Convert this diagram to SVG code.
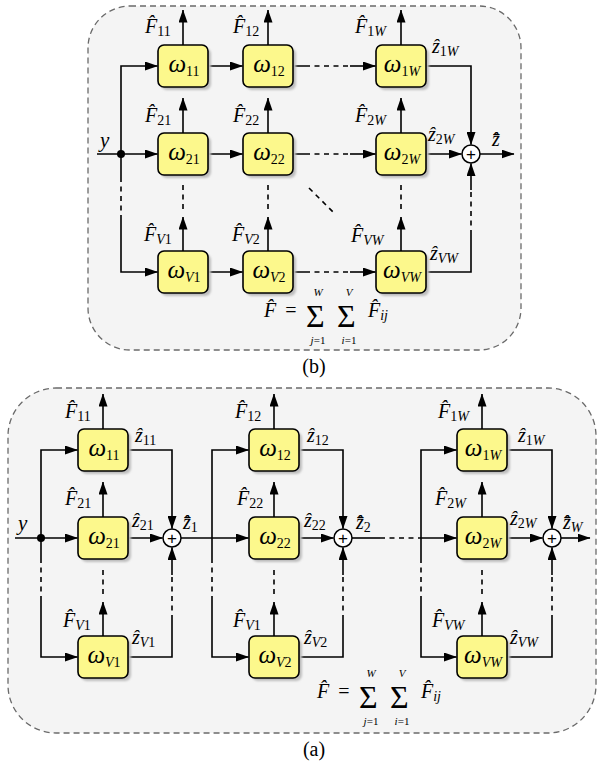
<svg xmlns="http://www.w3.org/2000/svg" width="597" height="763" viewBox="0 0 597 763">
  <defs>
    <style>
      .frame { fill: #f4f4f4; stroke: #6a6a6a; stroke-width: 1.3; stroke-dasharray: 6 4; }
      .ln { fill: none; stroke: #000; stroke-width: 1.6; }
      .ds { stroke-dasharray: 5 4.5; }
      .box { fill: #fcf88c; stroke: #000; stroke-width: 1.6; }
      .sh { fill: #bdbdbd; filter: url(#soft); }
      .sum { fill: #fff; stroke: #000; stroke-width: 1.5; }
      .plus { font-family: "Liberation Sans", Arial, sans-serif; font-size: 17px; text-anchor: middle; }
      text { font-family: "Liberation Serif", "Times New Roman", serif; }
      .t { font-style: italic; fill: #000; }
      .F { font-size: 20px; }
      .w { font-size: 25px; text-anchor: middle; }
      .z { font-size: 20px; }
      .s { font-size: 14px; }
      .r { font-style: normal; }
      .lim { font-size: 11px; text-anchor: middle; }
      .sig { font-size: 32px; }
      .cap { font-size: 20px; text-anchor: middle; }
    </style>
    <filter id="soft" x="-10%" y="-10%" width="130%" height="130%">
      <feGaussianBlur stdDeviation="0.8"/>
    </filter>
    <marker id="ah" markerWidth="13" markerHeight="9" refX="12.5" refY="4.5" orient="auto" markerUnits="userSpaceOnUse">
      <path d="M0,0 L13,4.5 L0,9 z" fill="#000"/>
    </marker>
  </defs>

  <!-- ===================== (b) parallel grid ===================== -->
  <rect class="frame" x="88" y="6" width="433" height="344" rx="42"/>

  <g id="b-connectors">
    <path class="ln" d="M97,154 H157.5" marker-end="url(#ah)"/>
    <path class="ln" d="M121,154 V66 H157.5" marker-end="url(#ah)"/>
    <path class="ln" d="M121,154 V177"/>
    <path class="ln ds" d="M121,177 V215"/>
    <path class="ln" d="M121,215 V272 H157.5" marker-end="url(#ah)"/>
    <path class="ln" d="M208,66 H242.5" marker-end="url(#ah)"/>
    <path class="ln" d="M208,154 H242.5" marker-end="url(#ah)"/>
    <path class="ln" d="M208,272 H242.5" marker-end="url(#ah)"/>
    <path class="ln" d="M293,66 H305 M293,154 H305 M293,272 H305"/>
    <path class="ln ds" d="M305,66 H350 M305,154 H350 M305,272 H350"/>
    <path class="ln" d="M350,66 H375.5" marker-end="url(#ah)"/>
    <path class="ln" d="M350,154 H375.5" marker-end="url(#ah)"/>
    <path class="ln" d="M350,272 H375.5" marker-end="url(#ah)"/>
    <path class="ln" d="M183,45 V10" marker-end="url(#ah)"/>
    <path class="ln" d="M268,45 V10" marker-end="url(#ah)"/>
    <path class="ln" d="M401,45 V10" marker-end="url(#ah)"/>
    <path class="ln" d="M183,133 V98" marker-end="url(#ah)"/>
    <path class="ln" d="M268,133 V98" marker-end="url(#ah)"/>
    <path class="ln" d="M401,133 V98" marker-end="url(#ah)"/>
    <path class="ln" d="M183,251 V217" marker-end="url(#ah)"/>
    <path class="ln" d="M268,251 V217" marker-end="url(#ah)"/>
    <path class="ln" d="M401,251 V217" marker-end="url(#ah)"/>
    <path class="ln ds" d="M183,185 V213 M268,185 V213 M401,185 V213"/>
    <path class="ln ds" d="M309,188 L334,213"/>
    <path class="ln" d="M427,66 H471 V144.5" marker-end="url(#ah)"/>
    <path class="ln" d="M427,154 H461.5" marker-end="url(#ah)"/>
    <path class="ln" d="M426,272 H471 V235"/>
    <path class="ln ds" d="M471,235 V190"/>
    <path class="ln" d="M471,190 V163.5" marker-end="url(#ah)"/>
    <path class="ln" d="M480,154 H514" marker-end="url(#ah)"/>
    <circle cx="121" cy="154" r="4" fill="#000"/>
  </g>

  <g id="b-w11"><rect class="sh" x="161" y="48" width="50" height="42" rx="6"/><rect class="box" x="158" y="45" width="50" height="42" rx="6"/><text class="t w" x="184" y="72">ω<tspan class="s r" dy="4">11</tspan></text></g>
  <g id="b-w12"><rect class="sh" x="246" y="48" width="50" height="42" rx="6"/><rect class="box" x="243" y="45" width="50" height="42" rx="6"/><text class="t w" x="269" y="72">ω<tspan class="s r" dy="4">12</tspan></text></g>
  <g id="b-w1W"><rect class="sh" x="379" y="48" width="50" height="42" rx="6"/><rect class="box" x="376" y="45" width="50" height="42" rx="6"/><text class="t w" x="402" y="72">ω<tspan class="s" dy="4"><tspan class="r">1</tspan>W</tspan></text></g>
  <g id="b-w21"><rect class="sh" x="161" y="136" width="50" height="42" rx="6"/><rect class="box" x="158" y="133" width="50" height="42" rx="6"/><text class="t w" x="184" y="160">ω<tspan class="s r" dy="4">21</tspan></text></g>
  <g id="b-w22"><rect class="sh" x="246" y="136" width="50" height="42" rx="6"/><rect class="box" x="243" y="133" width="50" height="42" rx="6"/><text class="t w" x="269" y="160">ω<tspan class="s r" dy="4">22</tspan></text></g>
  <g id="b-w2W"><rect class="sh" x="379" y="136" width="50" height="42" rx="6"/><rect class="box" x="376" y="133" width="50" height="42" rx="6"/><text class="t w" x="402" y="160">ω<tspan class="s" dy="4"><tspan class="r">2</tspan>W</tspan></text></g>
  <g id="b-wV1"><rect class="sh" x="161" y="254" width="50" height="42" rx="6"/><rect class="box" x="158" y="251" width="50" height="42" rx="6"/><text class="t w" x="184" y="278">ω<tspan class="s" dy="4">V<tspan class="r">1</tspan></tspan></text></g>
  <g id="b-wV2"><rect class="sh" x="246" y="254" width="50" height="42" rx="6"/><rect class="box" x="243" y="251" width="50" height="42" rx="6"/><text class="t w" x="269" y="278">ω<tspan class="s" dy="4">V<tspan class="r">2</tspan></tspan></text></g>
  <g id="b-wVW"><rect class="sh" x="379" y="254" width="50" height="42" rx="6"/><rect class="box" x="376" y="251" width="50" height="42" rx="6"/><text class="t w" x="402" y="278">ω<tspan class="s" dy="4">VW</tspan></text></g>
  <g id="b-sum"><circle class="sum" cx="471" cy="154" r="9"/><text class="plus" x="471" y="160">+</text></g>

  <g id="b-labels">
    <text class="t" x="100" y="147" font-size="21">y</text>
    <text class="t F" x="145" y="33">F̂<tspan class="s r" dy="3">11</tspan></text>
    <text class="t F" x="233" y="33">F̂<tspan class="s r" dy="3">12</tspan></text>
    <text class="t F" x="355" y="33">F̂<tspan class="s" dy="3"><tspan class="r">1</tspan>W</tspan></text>
    <text class="t F" x="145" y="122">F̂<tspan class="s r" dy="3">21</tspan></text>
    <text class="t F" x="233" y="122">F̂<tspan class="s r" dy="3">22</tspan></text>
    <text class="t F" x="355" y="122">F̂<tspan class="s" dy="3"><tspan class="r">2</tspan>W</tspan></text>
    <text class="t F" x="144" y="241">F̂<tspan class="s" dy="3">V<tspan class="r">1</tspan></tspan></text>
    <text class="t F" x="232" y="241">F̂<tspan class="s" dy="3">V<tspan class="r">2</tspan></tspan></text>
    <text class="t F" x="351" y="242">F̂<tspan class="s" dy="3">VW</tspan></text>
    <text class="t z" x="432" y="53">ẑ<tspan class="s" dy="3"><tspan class="r">1</tspan>W</tspan></text>
    <text class="t z" x="428" y="141">ẑ<tspan class="s" dy="3"><tspan class="r">2</tspan>W</tspan></text>
    <text class="t z" x="430" y="260">ẑ<tspan class="s" dy="3">VW</tspan></text>
    <text class="t z" x="492" y="146">z̄̂</text>
  </g>

  <g id="b-formula">
    <text class="t F" x="264" y="317">F̂</text>
    <text class="cap" x="291" y="317">=</text>
    <text class="sig" x="306" y="327">Σ</text>
    <text class="t lim" x="318" y="296">W</text>
    <text class="t lim" x="318" y="344">j<tspan class="r">=1</tspan></text>
    <text class="sig" x="337" y="327">Σ</text>
    <text class="t lim" x="349" y="296">V</text>
    <text class="t lim" x="349" y="344">i<tspan class="r">=1</tspan></text>
    <text class="t F" x="368" y="317">F̂<tspan class="s" dy="3">ij</tspan></text>
  </g>
  <text class="cap" x="314" y="373" font-family="Liberation Serif">(b)</text>

  <!-- ===================== (a) cascaded stages ===================== -->
  <rect class="frame" x="8" y="388" width="588" height="345" rx="48"/>

  <g id="a-connectors">
    <path class="ln" d="M15,538 H77.5" marker-end="url(#ah)"/>
    <path class="ln" d="M41,538 V450 H77.5" marker-end="url(#ah)"/>
    <path class="ln" d="M41,538 V558"/>
    <path class="ln ds" d="M41,558 V598"/>
    <path class="ln" d="M41,598 V657 H77.5" marker-end="url(#ah)"/>
    <path class="ln" d="M128,450 H172 V528.5" marker-end="url(#ah)"/>
    <path class="ln" d="M128,538 H162.5" marker-end="url(#ah)"/>
    <path class="ln" d="M128,657 H172 V620"/>
    <path class="ln ds" d="M172,620 V575"/>
    <path class="ln" d="M172,575 V547.5" marker-end="url(#ah)"/>
    <path class="ln" d="M103,429 V394" marker-end="url(#ah)"/>
    <path class="ln" d="M103,517 V482" marker-end="url(#ah)"/>
    <path class="ln" d="M103,636 V602" marker-end="url(#ah)"/>
    <path class="ln ds" d="M103,570 V598"/>
    <circle cx="41" cy="538" r="4" fill="#000"/>

    <path class="ln" d="M181,538 H248.5" marker-end="url(#ah)"/>
    <path class="ln" d="M212,558 V450 H248.5" marker-end="url(#ah)"/>
    <path class="ln ds" d="M212,558 V598"/>
    <path class="ln" d="M212,598 V657 H248.5" marker-end="url(#ah)"/>
    <path class="ln" d="M299,450 H343 V528.5" marker-end="url(#ah)"/>
    <path class="ln" d="M299,538 H333.5" marker-end="url(#ah)"/>
    <path class="ln" d="M299,657 H343 V620"/>
    <path class="ln ds" d="M343,620 V575"/>
    <path class="ln" d="M343,575 V547.5" marker-end="url(#ah)"/>
    <path class="ln" d="M274,429 V394" marker-end="url(#ah)"/>
    <path class="ln" d="M274,517 V482" marker-end="url(#ah)"/>
    <path class="ln" d="M274,636 V602" marker-end="url(#ah)"/>
    <path class="ln ds" d="M274,570 V598"/>

    <path class="ln" d="M352,538 H380"/>
    <path class="ln ds" d="M380,538 H418"/>
    <path class="ln" d="M418,538 H456.5" marker-end="url(#ah)"/>
    <path class="ln" d="M421,558 V450 H456.5" marker-end="url(#ah)"/>
    <path class="ln ds" d="M421,558 V598"/>
    <path class="ln" d="M421,598 V657 H456.5" marker-end="url(#ah)"/>
    <path class="ln" d="M507,450 H552 V528.5" marker-end="url(#ah)"/>
    <path class="ln" d="M507,538 H542.5" marker-end="url(#ah)"/>
    <path class="ln" d="M507,657 H552 V620"/>
    <path class="ln ds" d="M552,620 V575"/>
    <path class="ln" d="M552,575 V547.5" marker-end="url(#ah)"/>
    <path class="ln" d="M482,429 V394" marker-end="url(#ah)"/>
    <path class="ln" d="M482,517 V482" marker-end="url(#ah)"/>
    <path class="ln" d="M482,636 V602" marker-end="url(#ah)"/>
    <path class="ln ds" d="M482,570 V598"/>
    <path class="ln" d="M561,538 H590" marker-end="url(#ah)"/>
  </g>

  <g id="a-w11"><rect class="sh" x="81" y="432" width="50" height="42" rx="6"/><rect class="box" x="78" y="429" width="50" height="42" rx="6"/><text class="t w" x="104" y="456">ω<tspan class="s r" dy="4">11</tspan></text></g>
  <g id="a-w21"><rect class="sh" x="81" y="520" width="50" height="42" rx="6"/><rect class="box" x="78" y="517" width="50" height="42" rx="6"/><text class="t w" x="104" y="544">ω<tspan class="s r" dy="4">21</tspan></text></g>
  <g id="a-wV1"><rect class="sh" x="81" y="639" width="50" height="42" rx="6"/><rect class="box" x="78" y="636" width="50" height="42" rx="6"/><text class="t w" x="104" y="663">ω<tspan class="s" dy="4">V<tspan class="r">1</tspan></tspan></text></g>
  <g id="a-w12"><rect class="sh" x="252" y="432" width="50" height="42" rx="6"/><rect class="box" x="249" y="429" width="50" height="42" rx="6"/><text class="t w" x="275" y="456">ω<tspan class="s r" dy="4">12</tspan></text></g>
  <g id="a-w22"><rect class="sh" x="252" y="520" width="50" height="42" rx="6"/><rect class="box" x="249" y="517" width="50" height="42" rx="6"/><text class="t w" x="275" y="544">ω<tspan class="s r" dy="4">22</tspan></text></g>
  <g id="a-wV2"><rect class="sh" x="252" y="639" width="50" height="42" rx="6"/><rect class="box" x="249" y="636" width="50" height="42" rx="6"/><text class="t w" x="275" y="663">ω<tspan class="s" dy="4">V<tspan class="r">2</tspan></tspan></text></g>
  <g id="a-w1W"><rect class="sh" x="460" y="432" width="50" height="42" rx="6"/><rect class="box" x="457" y="429" width="50" height="42" rx="6"/><text class="t w" x="483" y="456">ω<tspan class="s" dy="4"><tspan class="r">1</tspan>W</tspan></text></g>
  <g id="a-w2W"><rect class="sh" x="460" y="520" width="50" height="42" rx="6"/><rect class="box" x="457" y="517" width="50" height="42" rx="6"/><text class="t w" x="483" y="544">ω<tspan class="s" dy="4"><tspan class="r">2</tspan>W</tspan></text></g>
  <g id="a-wVW"><rect class="sh" x="460" y="639" width="50" height="42" rx="6"/><rect class="box" x="457" y="636" width="50" height="42" rx="6"/><text class="t w" x="483" y="663">ω<tspan class="s" dy="4">VW</tspan></text></g>
  <g id="a-sum1"><circle class="sum" cx="172" cy="538" r="9"/><text class="plus" x="172" y="544">+</text></g>
  <g id="a-sum2"><circle class="sum" cx="343" cy="538" r="9"/><text class="plus" x="343" y="544">+</text></g>
  <g id="a-sum3"><circle class="sum" cx="552" cy="538" r="9"/><text class="plus" x="552" y="544">+</text></g>

  <g id="a-labels">
    <text class="t" x="18" y="530" font-size="21">y</text>
    <text class="t F" x="65" y="418">F̂<tspan class="s r" dy="3">11</tspan></text>
    <text class="t F" x="65" y="505">F̂<tspan class="s r" dy="3">21</tspan></text>
    <text class="t F" x="63" y="627">F̂<tspan class="s" dy="3">V<tspan class="r">1</tspan></tspan></text>
    <text class="t F" x="235" y="418">F̂<tspan class="s r" dy="3">12</tspan></text>
    <text class="t F" x="237" y="505">F̂<tspan class="s r" dy="3">22</tspan></text>
    <text class="t F" x="233" y="627">F̂<tspan class="s" dy="3">V<tspan class="r">1</tspan></tspan></text>
    <text class="t F" x="438" y="418">F̂<tspan class="s" dy="3"><tspan class="r">1</tspan>W</tspan></text>
    <text class="t F" x="435" y="505">F̂<tspan class="s" dy="3"><tspan class="r">2</tspan>W</tspan></text>
    <text class="t F" x="432" y="627">F̂<tspan class="s" dy="3">VW</tspan></text>
    <text class="t z" x="135" y="442">ẑ<tspan class="s r" dy="3">11</tspan></text>
    <text class="t z" x="132" y="527">ẑ<tspan class="s r" dy="3">21</tspan></text>
    <text class="t z" x="132" y="644">ẑ<tspan class="s" dy="3">V<tspan class="r">1</tspan></tspan></text>
    <text class="t z" x="307" y="442">ẑ<tspan class="s r" dy="3">12</tspan></text>
    <text class="t z" x="304" y="527">ẑ<tspan class="s r" dy="3">22</tspan></text>
    <text class="t z" x="304" y="644">ẑ<tspan class="s" dy="3">V<tspan class="r">2</tspan></tspan></text>
    <text class="t z" x="518" y="442">ẑ<tspan class="s" dy="3"><tspan class="r">1</tspan>W</tspan></text>
    <text class="t z" x="510" y="525">ẑ<tspan class="s" dy="3"><tspan class="r">2</tspan>W</tspan></text>
    <text class="t z" x="510" y="644">ẑ<tspan class="s" dy="3">VW</tspan></text>
    <text class="t z" x="183" y="529">z̄̂<tspan class="s r" dy="3">1</tspan></text>
    <text class="t z" x="356" y="529">z̄̂<tspan class="s r" dy="3">2</tspan></text>
    <text class="t z" x="563" y="529">z̄̂<tspan class="s" dy="3">W</tspan></text>
  </g>

  <g id="a-formula">
    <text class="t F" x="317" y="698">F̂</text>
    <text class="cap" x="344" y="698">=</text>
    <text class="sig" x="359" y="708">Σ</text>
    <text class="t lim" x="371" y="677">W</text>
    <text class="t lim" x="371" y="725">j<tspan class="r">=1</tspan></text>
    <text class="sig" x="390" y="708">Σ</text>
    <text class="t lim" x="402" y="677">V</text>
    <text class="t lim" x="402" y="725">i<tspan class="r">=1</tspan></text>
    <text class="t F" x="421" y="698">F̂<tspan class="s" dy="3">ij</tspan></text>
  </g>
  <text class="cap" x="314" y="756" font-family="Liberation Serif">(a)</text>
</svg>
